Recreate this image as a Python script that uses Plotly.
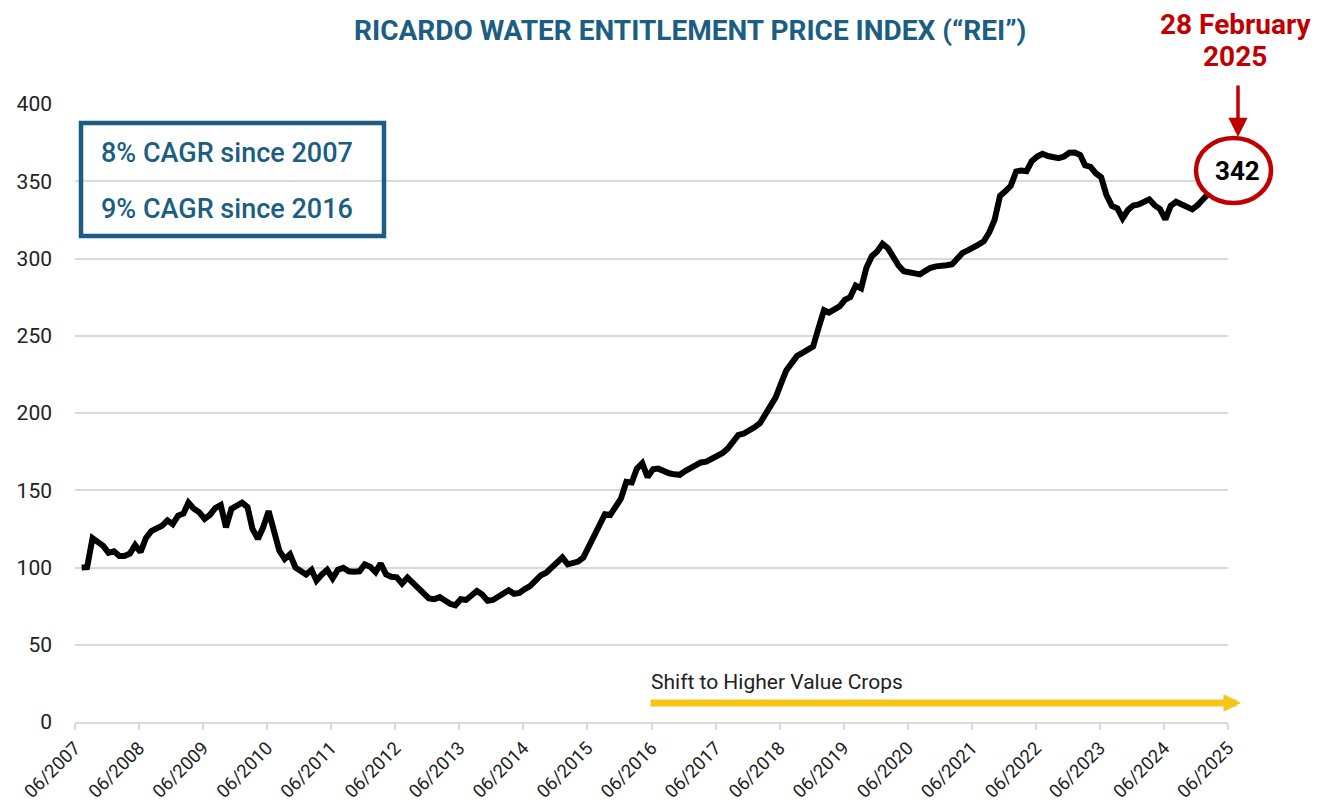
import plotly.graph_objects as go
import pandas as pd

# Monthly index values, July 2007 .. February 2025
start_month = "2007-07-01"
rei_values = [
    100.0, 100.2, 119.0, 117.0, 114.0, 109.5, 110.5, 107.5, 107.5, 109.0, 114.5, 110.0,
    119.0, 123.5, 125.3, 127.0, 130.5, 128.0, 133.5, 135.0, 142.0, 138.0, 135.8, 131.5,
    134.0, 138.5, 140.4, 126.0, 138.0, 140.0, 142.0, 139.0, 125.0, 118.5, 126.0, 136.5,
    125.0, 111.0, 105.5, 108.5, 100.0, 97.5, 95.5, 98.5, 91.5, 95.5, 98.5, 93.0,
    98.5, 99.8, 97.5, 97.3, 97.5, 102.0, 100.5, 97.0, 102.5, 95.5, 94.0, 93.6,
    89.5, 93.5, 90.0, 87.0, 83.5, 80.0, 79.5, 80.8, 78.8, 76.5, 75.5, 79.5,
    79.0, 81.5, 84.8, 82.5, 78.5, 79.0, 81.5, 83.5, 85.2, 83.0, 83.5, 86.0,
    88.0, 91.5, 95.0, 96.6, 100.0, 104.0, 106.5, 102.0, 103.2, 103.8, 106.5, 113.5,
    120.0, 129.0, 134.5, 134.0, 139.5, 144.5, 155.5, 155.0, 164.0, 167.5, 158.5, 163.5,
    164.0, 162.3, 161.0, 160.3, 160.0, 162.4, 164.7, 166.6, 168.0, 168.5, 170.3, 172.0,
    174.0, 177.0, 181.2, 185.8, 186.7, 188.4, 190.7, 193.4, 198.5, 205.3, 210.0, 219.0,
    227.6, 232.3, 237.0, 238.9, 241.0, 243.0, 255.0, 266.5, 265.0, 267.0, 269.0, 273.3,
    275.0, 282.5, 280.7, 294.0, 301.5, 304.5, 309.5, 306.6, 300.5, 295.5, 291.8, 290.8,
    290.2, 289.7, 292.0, 294.0, 294.9, 295.0, 295.6, 296.3, 300.0, 303.6, 305.3, 306.8,
    309.0, 311.2, 317.0, 325.0, 340.5, 343.5, 347.0, 356.3, 357.0, 356.5, 363.0, 366.0,
    367.8, 366.3, 366.0, 365.0, 366.0, 368.4, 368.6, 367.0, 360.3, 359.3, 355.2, 352.5,
    341.0, 334.0, 332.5, 326.0, 331.5, 334.3, 335.0, 336.3, 338.3, 334.4, 332.0, 325.3,
    334.0, 336.7, 335.0, 333.3, 331.8, 334.5, 337.8, 342.0,
]
dates = pd.date_range(start_month, periods=len(rei_values), freq="MS") + pd.Timedelta(days=8)

tick_dates = pd.date_range("2007-06-01", "2025-06-01", freq="12MS")
tick_labels = [d.strftime("%m/%Y") for d in tick_dates]
y_ticks = [0, 50, 100, 150, 200, 250, 300, 350, 400]

title_text = "RICARDO WATER ENTITLEMENT PRICE INDEX (“REI”)"
cagr_lines = ["8% CAGR since 2007", "9% CAGR since 2016"]
latest_label = "342"
date_lines = ["28 February", "2025"]
shift_label = "Shift to Higher Value Crops"

BLUE = "#1B5E82"
RED = "#C00000"
GOLD = "#F5C518"
GRID = "#D9D9D9"
FONT = "Roboto, Noto Sans, sans-serif"

# page is rendered with an 8px body margin, so the figure is laid out 8px up/left
OFF = 8
W, H = 1340, 806
PL, PT, PR, PB = 75, 104, 1228, 722   # plot area in page pixels
pw, ph = PR - PL, PB - PT
L, T = PL - OFF, PT - OFF
R, B = W - L - pw, H - T - ph


def px(x):
    return (x - PL) / pw


def py(y):
    return (PB - y) / ph


fig = go.Figure()
fig.add_trace(go.Scatter(
    x=dates, y=rei_values, mode="lines",
    line=dict(color="black", width=6, shape="linear"),
    hoverinfo="x+y", showlegend=False,
))

fig.update_layout(
    width=W, height=H,
    margin=dict(l=L, r=R, t=T, b=B, autoexpand=False),
    paper_bgcolor="white", plot_bgcolor="white",
    font=dict(family=FONT, color="#222222"),
    xaxis=dict(
        range=["2007-06-01", "2025-06-01"],
        tickmode="array", tickvals=tick_dates, ticktext=tick_labels,
        tickangle=-45, tickfont=dict(size=18.5, color="#222222"),
        showgrid=False, showline=True, linecolor=GRID, linewidth=2,
        ticks="outside", ticklen=6, tickcolor=GRID, tickwidth=2,
        zeroline=False, automargin=False,
    ),
    yaxis=dict(
        range=[0, 400], tickmode="array", tickvals=y_ticks,
        tickfont=dict(size=21, color="#222222"),
        showgrid=True, gridcolor=GRID, gridwidth=2,
        zeroline=False, showline=False, ticks="",
        ticklabelstandoff=22, automargin=False,
    ),
)

annotations = [
    dict(text=f"<b>{title_text}</b>", xref="paper", yref="paper",
         x=px(690), y=py(31), showarrow=False,
         font=dict(size=28, color=BLUE),
         xanchor="center", yanchor="middle"),
    dict(text=f"<b>{date_lines[0]}</b>", xref="paper", yref="paper",
         x=px(1235), y=py(25), showarrow=False,
         font=dict(size=28, color=RED),
         xanchor="center", yanchor="middle"),
    dict(text=f"<b>{date_lines[1]}</b>", xref="paper", yref="paper",
         x=px(1235), y=py(57), showarrow=False,
         font=dict(size=28, color=RED),
         xanchor="center", yanchor="middle"),
    # red arrow down to the circle
    dict(text="", xref="paper", yref="paper", x=px(1238), y=py(137),
         axref="pixel", ayref="pixel", ax=0, ay=-53, showarrow=True,
         arrowhead=2, arrowsize=1.1, arrowwidth=3.5, arrowcolor=RED),
    dict(text=f"<b>{latest_label}</b>", xref="paper", yref="paper",
         x=px(1237), y=py(171), showarrow=False,
         font=dict(size=26, color="black"), xanchor="center", yanchor="middle"),
    dict(text=cagr_lines[0], xref="paper", yref="paper",
         x=px(99), y=py(153), showarrow=False,
         font=dict(size=27, color=BLUE, weight=500), xanchor="left", yanchor="middle"),
    dict(text=cagr_lines[1], xref="paper", yref="paper",
         x=px(99), y=py(209), showarrow=False,
         font=dict(size=27, color=BLUE, weight=500), xanchor="left", yanchor="middle"),
    dict(text=shift_label, xref="paper", yref="paper",
         x=px(649), y=py(682), showarrow=False,
         font=dict(size=21, color="#222222"), xanchor="left", yanchor="middle"),
    # gold arrow from 06/2016 to the right edge
    dict(text="", xref="paper", yref="paper", x=px(1241), y=py(703),
         axref="pixel", ayref="pixel", ax=-(1241 - 649), ay=0,
         showarrow=True, arrowhead=2, arrowsize=0.5, arrowwidth=7,
         arrowcolor=GOLD),
]
fig.update_layout(annotations=annotations)

shapes = [
    dict(type="rect", xref="paper", yref="paper",
         x0=px(81), x1=px(384), y0=py(236), y1=py(123),
         line=dict(color=BLUE, width=4.5), fillcolor="rgba(0,0,0,0)"),
    dict(type="circle", xref="paper", yref="paper",
         x0=px(1196), x1=px(1271), y0=py(203), y1=py(138),
         line=dict(color=RED, width=4.5), fillcolor="white", layer="above"),
]
fig.update_layout(shapes=shapes)

fig.write_html("out.html")
